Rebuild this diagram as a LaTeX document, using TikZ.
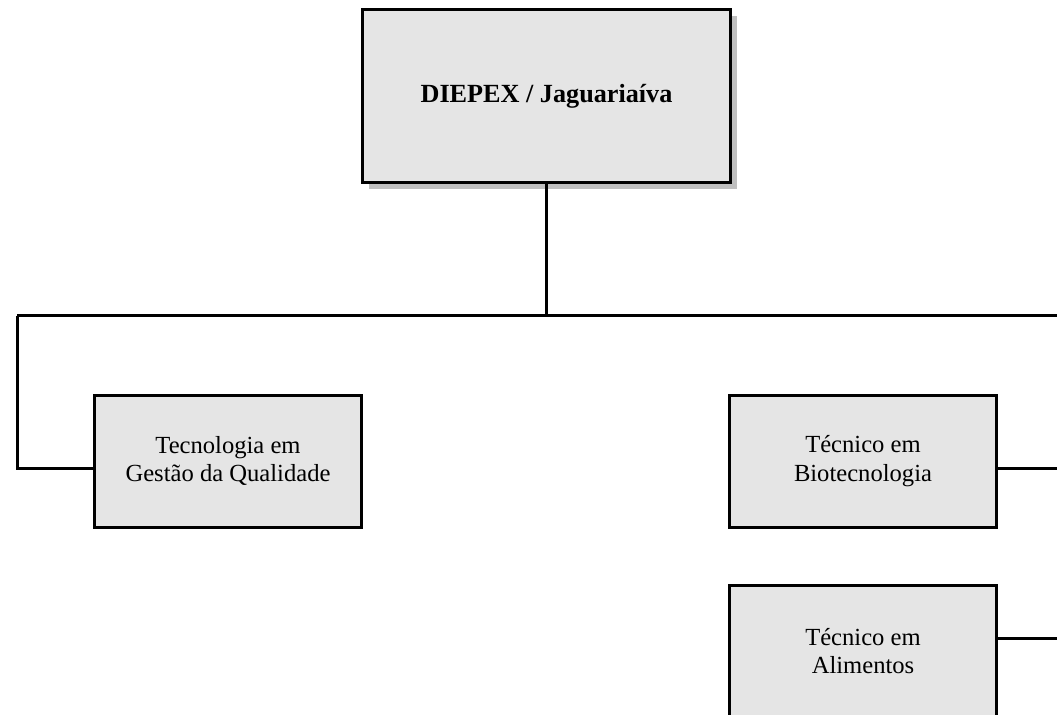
\documentclass[tikz,border=0pt]{standalone}
\usepackage{fontspec}
\setmainfont{Liberation Serif}
\usepackage{tikz}
\usetikzlibrary{positioning, calc, shadows}
\definecolor{BoxFill}{HTML}{E5E5E5}
\definecolor{ShadowGray}{HTML}{BFBFBF}
\tikzset{
  % Box styles
  headbox/.style={rectangle, draw=black, fill=BoxFill, line width=1.5pt, minimum width=184pt, minimum height=86.5pt, font=\fontsize{13.1}{15}\selectfont\bfseries, align=center, general shadow={fill=ShadowGray, shadow xshift=3pt, shadow yshift=-3pt}},
  coursebox/.style={rectangle, draw=black, fill=BoxFill, line width=1.5pt, minimum width=133.5pt, minimum height=66pt, font=\fontsize{12.3}{14.2}\selectfont, align=center},
  % Line styles
  link/.style={line width=1.5pt, black}
}
\begin{document}
\begin{tikzpicture}[x=0.5pt, y=-0.5pt]
  \useasboundingbox (0,0) rectangle (1057,714);
  \clip (0,0) rectangle (1057,714);

  % Head
  \node[headbox] (diepex) at (546.5,96) {DIEPEX / Jaguariaíva};

  % Courses
  \node[coursebox] (gq) at (228,461) {Tecnologia em\\Gestão da Qualidade};
  \node[coursebox] (bio) at (863,461) {Técnico em\\Biotecnologia};
  \node[coursebox] (ali) at (863,651) {Técnico em\\Alimentos};

  % Bus
  \coordinate (bus) at (546,315.5);
  \coordinate (busL) at (17,315.5);
  \coordinate (busR) at (1057,315.5);
  \coordinate (outbio) at (1057,468.5);
  \coordinate (outali) at (1057,638);

  % Connections
  \draw[link] (diepex.south -| bus) -- (bus);
  \draw[link] (busL) -- (busR);
  \draw[link] (busL) |- ($(gq.west)+(0,7.5)$);
  \draw[link] (bio.east |- outbio) -- (outbio);
  \draw[link] (ali.east |- outali) -- (outali);
\end{tikzpicture}
\end{document}
